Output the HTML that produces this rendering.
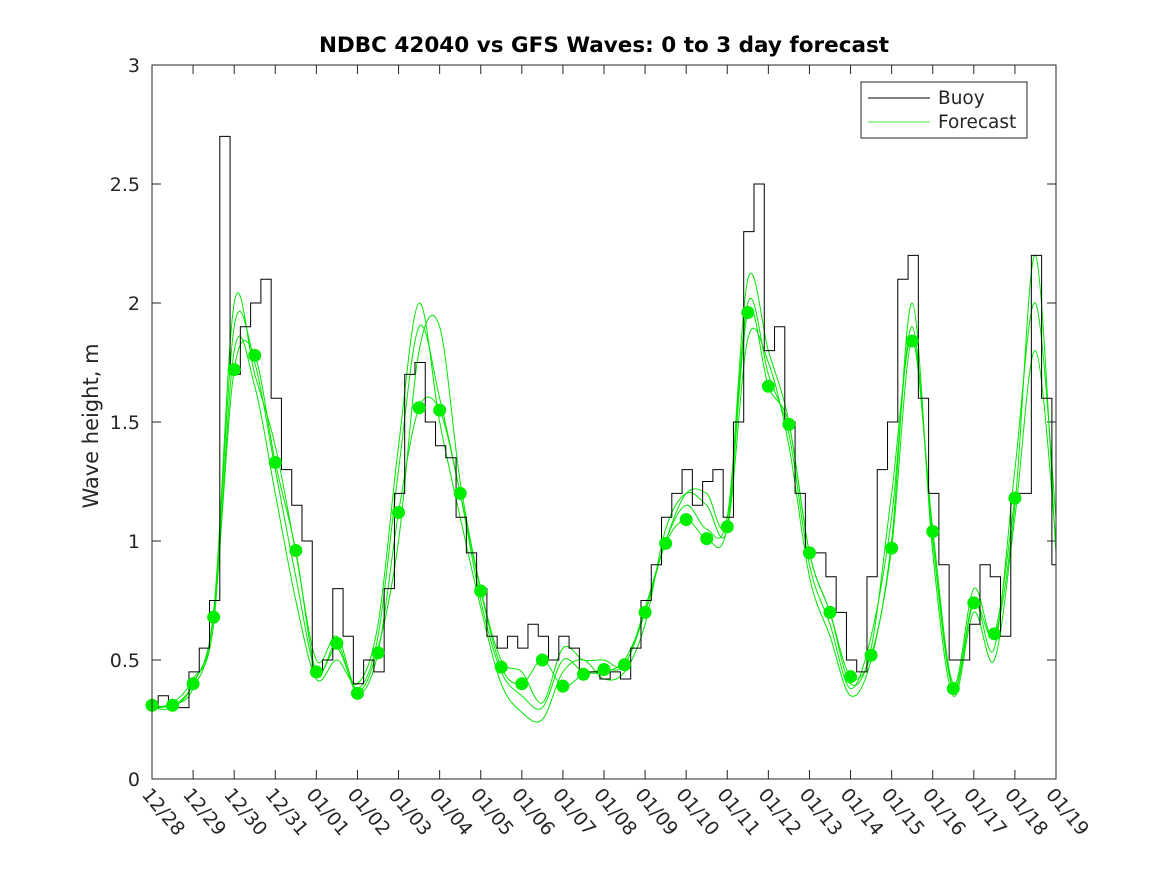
<!DOCTYPE html>
<html><head><meta charset="utf-8"><style>
body{margin:0;background:#fff;}
svg text{font-family:"DejaVu Sans","Liberation Sans",sans-serif;fill:#262626;}
</style></head><body>
<svg id="chart" width="1167" height="875" xmlns="http://www.w3.org/2000/svg">
<rect width="1167" height="875" fill="#fff"/>
<text x="604" y="52" text-anchor="middle" font-size="21.5" font-weight="bold" style="fill:#000">NDBC 42040 vs GFS Waves: 0 to 3 day forecast</text>
<text transform="translate(98,426) rotate(-90)" text-anchor="middle" font-size="21">Wave height, m</text>
<g id="plot"></g>
<rect x="152" y="65" width="904" height="714" fill="none" stroke="#262626" stroke-width="1"/>
<g>
<rect x="861" y="82" width="166" height="56" fill="#fff" stroke="#262626"/>
<line x1="868" y1="98" x2="930" y2="98" stroke="#000"/>
<text x="938" y="104" font-size="18.5">Buoy</text>
<line x1="868" y1="122" x2="930" y2="122" stroke="#00e000" stroke-width="0.8"/>
<text x="938" y="128" font-size="18.5">Forecast</text>
</g>
</svg>
<script>
const xLabels=["12/28","12/29","12/30","12/31","01/01","01/02","01/03","01/04","01/05","01/06","01/07","01/08","01/09","01/10","01/11","01/12","01/13","01/14","01/15","01/16","01/17","01/18","01/19"];
const yTicks=[0,0.5,1,1.5,2,2.5,3];
const buoy=[0.3,0.35,0.3,0.3,0.45,0.55,0.75,2.7,1.7,1.9,2.0,2.1,1.6,1.3,1.15,1.0,0.45,0.5,0.8,0.6,0.4,0.5,0.45,0.8,1.2,1.7,1.75,1.5,1.4,1.35,1.1,0.95,0.8,0.6,0.55,0.6,0.55,0.65,0.6,0.5,0.6,0.55,0.45,0.45,0.42,0.45,0.42,0.55,0.75,0.9,1.1,1.2,1.3,1.15,1.25,1.3,1.1,1.5,2.3,2.5,1.8,1.9,1.5,1.2,0.95,0.95,0.85,0.7,0.5,0.45,0.85,1.3,1.5,2.1,2.2,1.6,1.2,0.9,0.5,0.5,0.65,0.9,0.85,0.6,1.2,1.2,2.2,1.6,0.9];
const dots=[0.31,0.31,0.40,0.68,1.72,1.78,1.33,0.96,0.45,0.57,0.36,0.53,1.12,1.56,1.55,1.20,0.79,0.47,0.40,0.50,0.39,0.44,0.46,0.48,0.70,0.99,1.09,1.01,1.06,1.96,1.65,1.49,0.95,0.70,0.43,0.52,0.97,1.84,1.04,0.38,0.74,0.61,1.18];
const f1=[0.3,0.3,0.4,0.7,1.9,1.75,1.3,0.85,0.45,0.55,0.38,0.6,1.3,1.9,1.6,1.2,0.75,0.45,0.35,0.3,0.5,0.45,0.45,0.5,0.7,1.0,1.15,1.05,1.1,2.0,1.7,1.45,0.9,0.65,0.38,0.6,1.1,1.9,1.0,0.38,0.75,0.55,1.3,2.0,1.1];
const f2=[0.3,0.32,0.42,0.65,1.8,1.65,1.2,0.75,0.42,0.5,0.4,0.65,1.4,2.0,1.5,1.1,0.72,0.4,0.28,0.25,0.45,0.5,0.42,0.45,0.65,1.05,1.2,1.15,1.05,1.85,1.75,1.4,0.85,0.6,0.35,0.5,1.0,2.0,0.95,0.35,0.7,0.5,1.1,1.8,1.0];
const f3=[0.3,0.31,0.38,0.7,2.0,1.7,1.4,0.95,0.5,0.6,0.37,0.55,1.0,1.8,1.9,1.25,0.8,0.5,0.45,0.32,0.55,0.5,0.5,0.48,0.72,1.0,1.2,1.2,1.1,2.1,1.8,1.5,0.95,0.7,0.4,0.55,1.2,1.85,1.05,0.4,0.8,0.6,1.15,2.2,0.95];
const X0=152,X1=1056,Y0=779,Y1=65,NDAYS=22,YMAX=3;
const xs=d=>X0+(X1-X0)*d/NDAYS;
const ys=v=>Y0-(Y0-Y1)*v/YMAX;
const NS="http://www.w3.org/2000/svg";
const g=document.getElementById('plot');
function mk(t,a){const e=document.createElementNS(NS,t);for(const k in a)e.setAttribute(k,a[k]);return e;}
yTicks.forEach(v=>{
  const y=ys(v);
  g.appendChild(mk('line',{x1:X0,y1:y,x2:X0+9,y2:y,stroke:'#262626'}));
  g.appendChild(mk('line',{x1:X1,y1:y,x2:X1-9,y2:y,stroke:'#262626'}));
  const t=mk('text',{x:X0-12,y:y+7,'text-anchor':'end','font-size':19});
  
  
  t.textContent=v;g.appendChild(t);
});
xLabels.forEach((s,i)=>{
  const x=xs(i);
  g.appendChild(mk('line',{x1:x,y1:Y0,x2:x,y2:Y0-9,stroke:'#262626'}));
  g.appendChild(mk('line',{x1:x,y1:Y1,x2:x,y2:Y1+9,stroke:'#262626'}));
  const t=mk('text',{transform:`translate(${x-11},${Y0+16}) rotate(50)`,'font-size':19});
  
  
  t.textContent=s;g.appendChild(t);
});
function smooth(arr,step){
  const p=arr.map((v,i)=>[xs(i*step),ys(v)]);
  let d=`M${p[0][0]},${p[0][1]}`;
  for(let i=0;i<p.length-1;i++){
    const a=p[Math.max(0,i-1)],b=p[i],c=p[i+1],e=p[Math.min(p.length-1,i+2)];
    d+=` C${b[0]+(c[0]-a[0])/6},${b[1]+(c[1]-a[1])/6} ${c[0]-(e[0]-b[0])/6},${c[1]-(e[1]-b[1])/6} ${c[0]},${c[1]}`;
  }
  return d;
}
[f1,f2,f3,dots].forEach((f,k)=>{
  const pth=mk('path',{d:smooth(f,0.5),fill:'none',stroke:'#00e600','stroke-width':1});
  
  
  g.appendChild(pth);
});
let bd='';
buoy.forEach((v,i)=>{const x=xs(i*0.25-0.1),y=ys(v);bd+=(i?' H':'M'+X0+','+y+' H')+Math.max(X0,x)+' V'+y;});
bd+=' H'+X1;
const bp=mk('path',{d:bd,fill:'none',stroke:'#000','stroke-width':1});


g.appendChild(bp);
dots.forEach((v,i)=>{
  const c=mk('circle',{cx:xs(i*0.5),cy:ys(v),r:6.5,fill:'#00ee00'});
  
  
  g.appendChild(c);
});
</script>
</body></html>
